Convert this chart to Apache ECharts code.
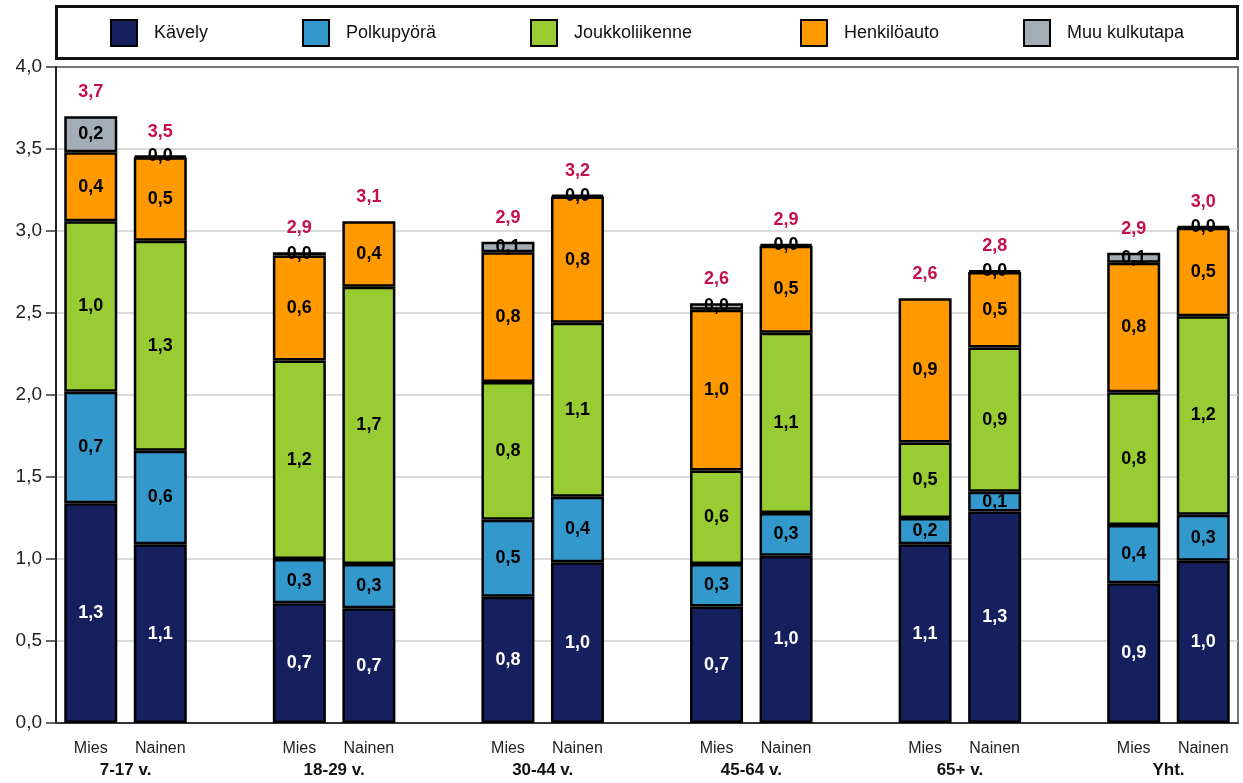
<!DOCTYPE html>
<html>
<head>
<meta charset="utf-8">
<script src="https://cdn.jsdelivr.net/npm/echarts@6/dist/echarts.min.js"></script>
<style>
  html, body { margin: 0; padding: 0; background: #fff; }
  #chart { width: 1243px; height: 783px; }
</style>
</head>
<body>
<div id="chart"></div>
<script>
// slots: Mies, Nainen, gap ... (gap = '-')
var slots = ['Mies', 'Nainen', '', 'Mies', 'Nainen', '', 'Mies', 'Nainen', '', 'Mies', 'Nainen', '', 'Mies', 'Nainen', '', 'Mies', 'Nainen'];
var groupLabels = ['', '7-17 v.', '', '', '18-29 v.', '', '', '30-44 v.', '', '', '45-64 v.', '', '', '65+ v.', '', '', 'Yht.', ''];
var seriesNames = ['Kävely', 'Polkupyörä', 'Joukkoliikenne', 'Henkilöauto', 'Muu kulkutapa'];
var colors = ['#17205e', '#3399cc', '#99cc33', '#ff9900', '#a3adb6'];

var kavely      = [1.34, 1.09, '-', 0.73, 0.70, '-', 0.77, 0.98, '-', 0.71, 1.02, '-', 1.09, 1.29, '-', 0.852, 0.99];
var polkupyora  = [0.68, 0.57, '-', 0.27, 0.27, '-', 0.47, 0.40, '-', 0.26, 0.26, '-', 0.16, 0.12, '-', 0.355, 0.28];
var joukko      = [1.04, 1.28, '-', 1.21, 1.69, '-', 0.84, 1.06, '-', 0.57, 1.10, '-', 0.46, 0.88, '-', 0.81, 1.21];
var henkiloauto = [0.42, 0.51, '-', 0.64, 0.40, '-', 0.79, 0.77, '-', 0.98, 0.53, '-', 0.88, 0.46, '-', 0.79, 0.54];
var muu         = [0.22, 0.01, '-', 0.02, '-', '-', 0.065, 0.01, '-', 0.04, 0.01, '-', '-', 0.01, '-', 0.06, 0.01];

var yTicks = [0, 0.5, 1, 1.5, 2, 2.5, 3, 3.5, 4];
var legendLeft = [110, 302, 530, 800, 1023];

var font = 'Liberation Sans, Arial, sans-serif';
var allData = [kavely, polkupyora, joukko, henkiloauto, muu];

function fmt(v) {
	return (Math.round(v * 10) / 10).toFixed(1).replace('.', ',');
}

var totals = slots.map(function(s, i) {
	if (s === '') return '-';
	var t = 0;
	allData.forEach(function(arr) {
		if (typeof arr[i] === 'number') t += arr[i];
	});
	return t;
});

var series = [{
	name: 'total',
	type: 'bar',
	barWidth: 53,
	barGap: '-100%',
	data: totals,
	itemStyle: { color: 'rgba(0,0,0,0)' },
	label: {
		show: true,
		position: 'top',
		distance: 15,
		color: '#c40f4a',
		fontWeight: 'bold',
		fontSize: 18,
		fontFamily: font,
		formatter: function(p) { return fmt(p.value); }
	},
	silent: true
}];

seriesNames.forEach(function(name, k) {
	series.push({
		name: name,
		type: 'bar',
		stack: 'all',
		barWidth: 53,
		barGap: '-100%',
		data: allData[k],
		itemStyle: { color: colors[k], borderColor: '#000', borderWidth: 2.5 },
		label: {
			show: true,
			position: 'inside',
			color: k === 0 ? '#fff' : '#000',
			fontWeight: 'bold',
			fontSize: 18,
			fontFamily: font,
			formatter: function(p) { return fmt(p.value); }
		}
	});
});

// one legend per item so each sits where it does in the original
var legends = seriesNames.map(function(name, k) {
	return {
		data: [name],
		left: legendLeft[k],
		top: 19,
		padding: 0,
		itemWidth: 26,
		itemHeight: 26,
		icon: 'rect',
		itemStyle: { borderColor: '#000', borderWidth: 2 },
		textStyle: { fontSize: 18, color: '#111', fontFamily: font, padding: [0, 0, 0, 12] }
	};
});

var chart = echarts.init(document.getElementById('chart'));
chart.setOption({
	animation: false,
	color: colors,
	graphic: [{
		type: 'rect',
		shape: { x: 56.5, y: 6.5, width: 1181, height: 52 },
		style: { fill: '#fff', stroke: '#111', lineWidth: 3 },
		z: -1
	}],
	legend: legends,
	grid: {
		left: 56, right: 5, top: 67, bottom: 60,
		show: true,
		borderColor: '#777',
		borderWidth: 2
	},
	xAxis: [{
		type: 'category',
		data: slots,
		axisLine: { lineStyle: { color: '#333', width: 2 } },
		axisTick: { show: false },
		axisLabel: { interval: 0, margin: 18, fontSize: 16, color: '#222', fontFamily: font }
	}, {
		type: 'category',
		data: groupLabels,
		position: 'bottom',
		boundaryGap: false,
		axisLine: { show: false },
		axisTick: { show: false },
		axisLabel: { interval: 0, margin: 39, fontSize: 17, fontWeight: 'bold', color: '#111', fontFamily: font }
	}],
	yAxis: {
		type: 'value',
		min: yTicks[0],
		max: yTicks[yTicks.length - 1],
		interval: 0.5,
		axisLine: { show: true, lineStyle: { color: '#222', width: 2 } },
		axisTick: { show: true, length: 10, lineStyle: { color: '#333', width: 1.5 } },
		axisLabel: { margin: 14, fontSize: 19, color: '#222', fontFamily: font, formatter: function(v) { return v.toFixed(1).replace('.', ','); } },
		splitLine: { showMaxLine: false, lineStyle: { color: '#cfcfcf', width: 1.5 } }
	},
	series: series
});
</script>
</body>
</html>
